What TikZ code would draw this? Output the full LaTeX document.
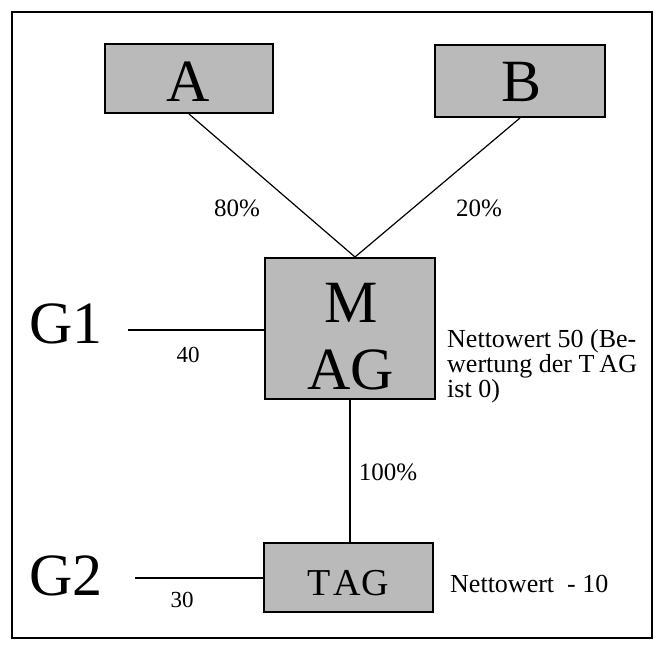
\documentclass[tikz,border=0pt]{standalone}
\usepackage{fontspec}
\setmainfont{Liberation Serif}
\begin{document}
\begin{tikzpicture}[x=1pt,y=-1pt,
  box/.style={draw, line width=2pt, fill=black!27, inner sep=0pt, rectangle},
  link/.style={line width=1.2pt},
  frame/.style={line width=1.5pt},
  bigtxt/.style={font=\fontsize{60}{67}\selectfont, inner sep=0pt},
  midtxt/.style={font=\fontsize{25}{25}\selectfont, inner sep=0pt},
  smalltxt/.style={font=\fontsize{23}{23}\selectfont, inner sep=0pt},
  notetxt/.style={font=\fontsize{26}{25}\selectfont, inner sep=0pt}]
\useasboundingbox (0,0) rectangle (658,649);
\draw[frame] (12,12) rectangle (652,638);

% boxes
\node[box, minimum width=168pt, minimum height=69pt] (A) at (189,78.5) {};
\node[bigtxt] (At) at (188,82) {A};
\node[box, minimum width=170pt, minimum height=72pt] (B) at (520,81) {};
\node[bigtxt] (Bt) at (522,82) {B};
\node[box, minimum width=170pt, minimum height=141pt] (M) at (350,328.5) {};
\node[bigtxt, align=center] (Mt) at (351,337) {M\\AG};
\node[box, minimum width=169pt, minimum height=69pt] (T) at (348.5,577.5) {};
\node[font=\fontsize{38}{40}\selectfont, inner sep=0pt] (Tt) at (348,583) {T\kern3pt AG};

% G nodes
\node[bigtxt] (G1) at (66,324) {G1};
\node[bigtxt] (G2) at (66,576) {G2};

% connectors
\draw[link] (A.south) -- ([xshift=5pt]M.north);
\draw[link] (B.south) -- ([xshift=5pt]M.north);
\draw[link] (M.south) -- (M.south |- T.north);
\coordinate (g1s) at (128,330);
\draw[link] (g1s) -- (g1s -| M.west);
\coordinate (g2s) at (135,578);
\draw[link] (g2s) -- (g2s -| T.west);

% labels
\node[midtxt] (p80) at (237,208) {80\%};
\node[midtxt] (p20) at (479,208) {20\%};
\node[midtxt] (p100) at (388,472) {100\%};
\node[smalltxt] (v40) at (188,355) {40};
\node[smalltxt] (v30) at (182,600) {30};
\node[notetxt, align=left, anchor=north west] (n1) at (447,329) {Nettowert 50 (Be-\\wertung der T\kern5pt AG\\ist 0)};
\node[notetxt, anchor=base west] (n2) at (450,592) {Nettowert\ \ - 10};
\end{tikzpicture}
\end{document}
